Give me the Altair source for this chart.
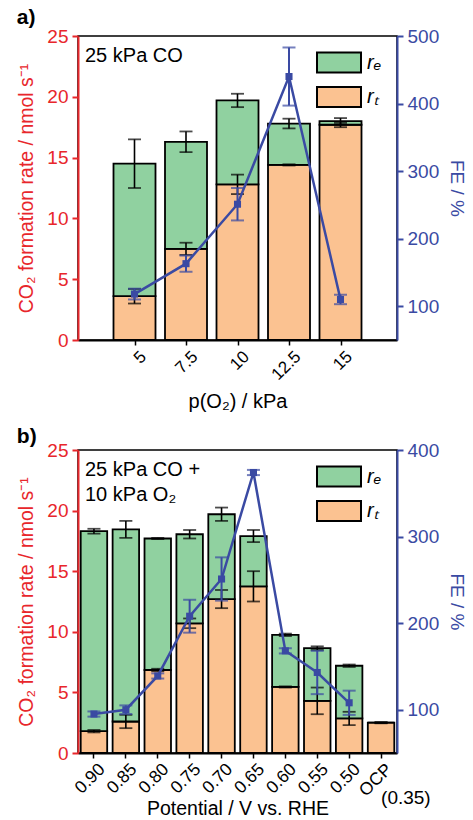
import altair as alt
import pandas as pd

# ---------------- data: panel a ----------------
p_o2 = [5, 7.5, 10, 12.5, 15]
a_total = [14.5, 16.3, 19.7, 17.8, 18.0]
a_total_err = [2.0, 0.85, 0.55, 0.4, 0.25]
a_rt = [3.6, 7.5, 12.8, 14.4, 17.7]
a_rt_err = [0.6, 0.5, 0.8, 0.05, 0.2]
a_fe = [118, 163, 251, 440, 110]
a_fe_err = [8, 12, 24, 43, 7]

# ---------------- data: panel b ----------------
potential = ["0.90", "0.85", "0.80", "0.75", "0.70", "0.65", "0.60", "0.55", "0.50", "OCP"]
b_total = [18.3, 18.45, 17.7, 18.05, 19.7, 17.9, 9.75, 8.65, 7.2, 2.5]
b_total_err = [0.2, 0.7, 0.05, 0.35, 0.55, 0.5, 0.1, 0.15, 0.1, 0.0]
b_rt = [1.8, 2.6, 6.85, 10.7, 12.7, 13.75, 5.45, 4.3, 2.85, 2.5]
b_rt_err = [0.1, 0.55, 0.1, 0.4, 0.75, 1.25, 0.05, 1.1, 0.55, 0.05]
fe_potential = ["0.90", "0.85", "0.80", "0.75", "0.70", "0.65", "0.60", "0.55", "0.50"]
b_fe = [95, 100, 139, 208, 251, 374, 168, 143, 108]
b_fe_err = [3, 5, 3, 19, 25, 3, 3, 25, 14]

RE = "rₑ"
RT = "rₜ"
GREEN = "#90d1a0"
ORANGE = "#fbc291"
BLUE = "#3a4aa3"
RED = "#e8262b"
FONT = "Liberation Sans"
W, H = 319, 304


def stack_df(xs, total, rt):
    rows = []
    for x, t, r in zip(xs, total, rt):
        rows.append({"x": x, "series": RT, "y0": 0, "y1": r})
        rows.append({"x": x, "series": RE, "y0": r, "y1": t})
    return pd.DataFrame(rows)


def err_df(xs, vals, errs):
    return pd.DataFrame({"x": xs, "v": vals,
                         "lo": [v - e for v, e in zip(vals, errs)],
                         "hi": [v + e for v, e in zip(vals, errs)]})


def build_panel(xfac, bar_size, xs, total, total_err, rt, rt_err,
                fe_xs, fe, fe_err, rmax, rvalues, note):
    ls = alt.Scale(domain=[0, 25], nice=False)
    rs = alt.Scale(domain=[50, rmax], nice=False, zero=False)
    left_axis = alt.Axis(title="CO₂ formation rate / nmol s⁻¹", values=[0, 5, 10, 15, 20, 25],
                         orient="left", titleColor=RED, labelColor=RED, domainColor=RED,
                         tickColor=RED, domainWidth=2, tickWidth=2, tickSize=6,
                         labelFontSize=19, titleFontSize=19.5, titleFontWeight="normal",
                         titlePadding=10, labelPadding=4, grid=False)
    right_axis = alt.Axis(title="FE / %", values=rvalues, orient="right",
                          titleColor=BLUE, labelColor=BLUE, domainColor=BLUE,
                          tickColor=BLUE, domainWidth=2, tickWidth=2, tickSize=6,
                          labelFontSize=19, titleFontSize=19, titleFontWeight="normal",
                          titlePadding=8, labelPadding=4, grid=False)

    def LY(field):
        return alt.Y(field, scale=ls, axis=left_axis)

    def RY(field):
        return alt.Y(field, scale=rs, axis=right_axis)

    sdf = stack_df(xs, total, rt)
    bar_kw = dict(stroke="black", strokeWidth=1.8)
    if bar_size:
        bar_kw["size"] = bar_size
    bars = alt.Chart(sdf).mark_bar(**bar_kw).encode(
        x=xfac(),
        y=LY("y1:Q"),
        y2="y0:Q",
        color=alt.Color("series:N",
                        scale=alt.Scale(domain=[RE, RT], range=[GREEN, ORANGE]),
                        legend=alt.Legend(title=None, orient="none", legendX=249, legendY=14.5,
                                          padding=0,
                                          symbolType="M-2,-0.9L2,-0.9L2,0.9L-2,0.9Z",
                                          symbolSize=484, symbolStrokeColor="black",
                                          symbolStrokeWidth=2, labelFontSize=20,
                                          labelFontStyle="italic", labelFont=FONT,
                                          rowPadding=6.5, labelOffset=16)),
    )
    left = [bars]
    for vals, errs in ((total, total_err), (rt, rt_err)):
        edf = err_df(xs, vals, errs)
        left.append(alt.Chart(edf).mark_rule(color="black", strokeWidth=1.6).encode(
            x=xfac(), y=LY("lo:Q"), y2="hi:Q"))
        left.append(alt.Chart(edf).transform_fold(["lo", "hi"], as_=["k", "yv"]).mark_tick(
            orient="horizontal", size=13, thickness=1.8, color="black").encode(
            x=xfac(), y=LY("yv:Q")))
    left.append(alt.Chart(pd.DataFrame({"t": [note]})).mark_text(
        align="left", baseline="top", fontSize=20, font=FONT, lineBreak="\n", lineHeight=25,
        color="black").encode(x=alt.value(7), y=alt.value(10), text="t:N"))

    fdf = err_df(fe_xs, fe, fe_err)
    right = [
        alt.Chart(fdf).mark_line(color=BLUE, strokeWidth=2.5,
                                 point=alt.OverlayMarkDef(shape="square", size=50,
                                                          color=BLUE, filled=True)).encode(
            x=xfac(), y=RY("v:Q")),
        alt.Chart(fdf).mark_rule(color=BLUE, strokeWidth=2).encode(
            x=xfac(), y=RY("lo:Q"), y2="hi:Q"),
        alt.Chart(fdf).transform_fold(["lo", "hi"], as_=["k", "yv"]).mark_tick(
            orient="horizontal", size=13, thickness=2, color=BLUE).encode(
            x=xfac(), y=RY("yv:Q")),
    ]
    return left, right


# ---------------- panel a ----------------
axis_a = alt.Axis(title="p(O₂) / kPa", values=p_o2, format=".1~f",
                  labelAngle=-45, labelAlign="right", labelBaseline="top",
                  labelFontSize=17, labelPadding=3, labelOffset=3, labelFlush=False,
                  labelOverlap=False,
                  domainColor="black", domainWidth=2, tickColor="black",
                  tickWidth=1.5, tickSize=5, titleFontSize=20,
                  titleFontWeight="normal", titlePadding=9, grid=False)


def xfac_a():
    return alt.X("x:Q", scale=alt.Scale(domain=[2.5, 17.5], nice=False, zero=False), axis=axis_a)


la, ra = build_panel(xfac_a, 42, p_o2, a_total, a_total_err, a_rt, a_rt_err,
                     p_o2, a_fe, a_fe_err, 500, [100, 200, 300, 400, 500], "25 kPa CO")
panel_a = alt.layer(alt.layer(*la), alt.layer(*ra)).resolve_scale(y="independent").properties(
    width=W, height=H,
    title=alt.TitleParams("a)", anchor="start", fontSize=21, fontWeight="bold", font=FONT, offset=-1))

# ---------------- panel b ----------------
axis_b = alt.Axis(title="Potential / V vs. RHE",
                  labelAngle=-45, labelAlign="right", labelBaseline="top",
                  labelFontSize=17.5, labelPadding=2, labelOffset=2,
                  domainColor="black", domainWidth=2, tickColor="black",
                  tickWidth=1.5, tickSize=5, titleFontSize=19.5,
                  titleFontWeight="normal", titlePadding=0, grid=False)


def xfac_b():
    return alt.X("x:N", sort=potential,
                 scale=alt.Scale(domain=potential, paddingInner=0.17, paddingOuter=0.085),
                 axis=axis_b)


lb, rb = build_panel(xfac_b, None, potential, b_total, b_total_err, b_rt, b_rt_err,
                     fe_potential, b_fe, b_fe_err, 400, [100, 200, 300, 400],
                     "25 kPa CO +\n10 kPa O₂")
lb.append(alt.Chart(pd.DataFrame({"x": ["OCP"], "t": ["(0.35)"]})).mark_text(
    align="left", baseline="top", fontSize=19, font=FONT, color="black").encode(
    x=xfac_b(), y=alt.value(H + 35), text="t:N"))
panel_b = alt.layer(alt.layer(*lb), alt.layer(*rb)).resolve_scale(y="independent").properties(
    width=W, height=H - 1,
    title=alt.TitleParams("b)", anchor="start", fontSize=21, fontWeight="bold", font=FONT, offset=-6))

chart = alt.vconcat(panel_a, panel_b, spacing=12).resolve_scale(color="independent").properties(
    padding={"left": 16, "top": 6, "right": 2, "bottom": 0}
).configure(font=FONT).configure_view(stroke="black", strokeWidth=1.5).configure_axis(
    labelFont=FONT, titleFont=FONT)

chart.save("out.html", embed_options={"renderer": "svg", "actions": False})
